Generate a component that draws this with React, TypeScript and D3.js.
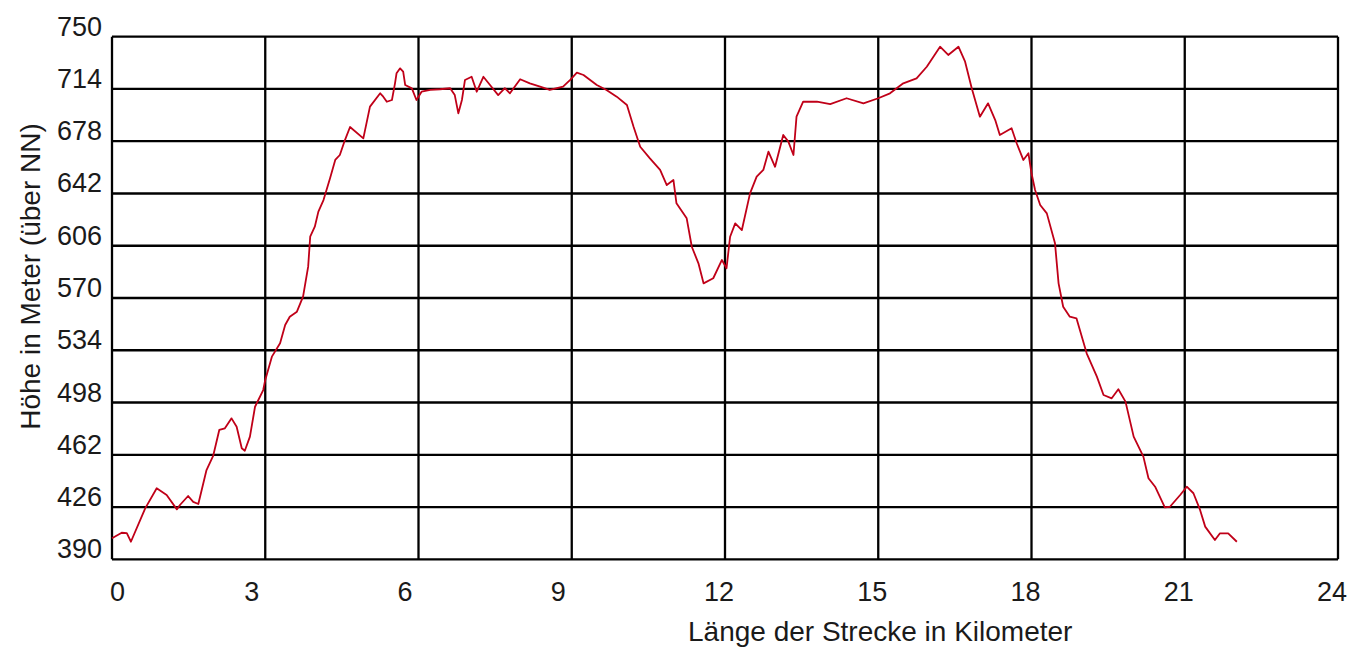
import React from "react";
import * as d3 from "d3";

const distanceKm: number[] = [
  0, 0.19, 0.29, 0.37, 0.65, 0.875, 1.07, 1.27, 1.33, 1.49, 1.59, 1.69, 1.85, 1.98, 2.1, 2.21, 2.34, 2.44, 2.54, 2.6,
  2.7, 2.8, 2.96, 3.0, 3.13, 3.29, 3.39, 3.48, 3.62, 3.74, 3.84, 3.88, 3.97, 4.04, 4.14, 4.27, 4.37, 4.46, 4.56, 4.66,
  4.92, 5.05, 5.25, 5.31, 5.38, 5.48, 5.54, 5.57, 5.64, 5.7, 5.74, 5.87, 5.96, 6.06, 6.23, 6.42, 6.62, 6.71, 6.78, 6.85,
  6.91, 7.04, 7.14, 7.27, 7.4, 7.56, 7.69, 7.79, 7.99, 8.18, 8.38, 8.57, 8.83, 8.97, 9.1, 9.23, 9.49, 9.68, 9.88, 10.08,
  10.21, 10.34, 10.53, 10.73, 10.86, 10.99, 11.05, 11.25, 11.35, 11.48, 11.58, 11.77, 11.94, 12.03, 12.1, 12.2, 12.33, 12.49, 12.62, 12.75,
  12.85, 12.98, 13.14, 13.24, 13.34, 13.4, 13.53, 13.8, 14.06, 14.38, 14.71, 15.0, 15.23, 15.49, 15.75, 15.95, 16.21, 16.37, 16.57, 16.7,
  16.83, 16.99, 17.15, 17.29, 17.38, 17.61, 17.71, 17.84, 17.94, 18.0, 18.07, 18.17, 18.3, 18.46, 18.53, 18.62, 18.75, 18.88, 19.08, 19.28,
  19.41, 19.57, 19.7, 19.84, 20.0, 20.19, 20.29, 20.42, 20.61, 20.71, 20.91, 21.04, 21.17, 21.3, 21.4, 21.59, 21.69, 21.85, 22.02,
];

const elevationM: number[] = [
  404.5, 408.3, 408.1, 402.1, 425.1, 438.9, 434.3, 424.4, 427.4, 433.6, 429.5, 428.1, 451.5, 461.2, 479.1, 480.2, 487.1, 481.3, 466.5, 464.8,
  474.5, 495.1, 506.6, 513.5, 529.6, 538.8, 551.4, 557.1, 560.6, 570.9, 591.6, 612.2, 619.1, 629.5, 637.5, 652.7, 665.1, 668.5, 678.8, 687.8,
  680.0, 701.8, 711.0, 708.7, 705.2, 706.4, 717.9, 724.8, 728.2, 725.9, 716.7, 714.4, 706.4, 712.1, 713.3, 713.8, 714.5, 709.8, 697.2, 706.4,
  720.2, 722.4, 712.1, 722.4, 716.7, 709.8, 714.5, 711.0, 720.7, 717.9, 715.6, 713.3, 715.6, 720.2, 725.2, 723.6, 716.7, 713.3, 708.7, 703.0,
  688.0, 674.2, 666.2, 658.2, 647.8, 651.3, 635.2, 624.9, 605.3, 593.9, 580.1, 583.6, 596.2, 590.5, 612.2, 621.4, 616.8, 642.1, 653.6, 658.2,
  670.8, 660.4, 682.3, 677.7, 668.5, 694.9, 705.2, 705.2, 703.6, 707.6, 704.1, 707.6, 711.0, 717.9, 721.3, 729.3, 743.1, 737.4, 743.1, 732.8,
  714.5, 694.9, 704.1, 692.6, 682.3, 686.9, 676.6, 665.1, 669.7, 655.9, 644.4, 634.1, 628.3, 607.7, 580.1, 564.0, 557.1, 556.0, 531.9, 515.8,
  503.2, 500.9, 507.1, 498.6, 474.5, 460.7, 445.8, 440.0, 425.8, 426.2, 434.3, 440.0, 435.5, 424.0, 412.5, 403.3, 407.9, 407.9, 402.1,
];

const xTicks: number[] = [0, 3, 6, 9, 12, 15, 18, 21, 24];
const yTicks: number[] = [390, 426, 462, 498, 534, 570, 606, 642, 678, 714, 750];

const xTitle = "Länge der Strecke in Kilometer";
const yTitle = "Höhe in Meter (über NN)";

export default function App() {
  const W = 1352;
  const H = 647;
  const left = 112;
  const right = 1338;
  const top = 36.7;
  const bottom = 559.3;

  const x = d3.scaleLinear().domain([0, 24]).range([left, right]);
  const y = d3.scaleLinear().domain([390, 750]).range([bottom, top]);

  const pts: [number, number][] = distanceKm.map((d, i) => [d, elevationM[i]]);
  const line = d3
    .line<[number, number]>()
    .x((p) => x(p[0]))
    .y((p) => y(p[1]));

  const font = "'Liberation Sans', Arial, sans-serif";
  const textColor = "#1a1a1a";

  return (
    <svg
      width={W}
      height={H}
      style={{ position: "absolute", left: 0, top: 0, background: "#fff" }}
    >
      <rect x={0} y={0} width={W} height={H} fill="#fff" />
      {yTicks.map((t) => (
        <line key={"h" + t} x1={left} x2={right} y1={y(t)} y2={y(t)} stroke="#000" strokeWidth={2.3} />
      ))}
      {xTicks.map((t) => (
        <line key={"v" + t} x1={x(t)} x2={x(t)} y1={top} y2={bottom} stroke="#000" strokeWidth={2.3} />
      ))}
      <path d={line(pts) || ""} fill="none" stroke="#c00018" strokeWidth={1.8} strokeLinejoin="round" />
      {yTicks.map((t) => (
        <text
          key={"yl" + t}
          x={102}
          y={y(t) - 1}
          textAnchor="end"
          fontFamily={font}
          fontSize={27}
          fill={textColor}
        >
          {t}
        </text>
      ))}
      {xTicks.map((t) => (
        <text
          key={"xl" + t}
          x={t === 0 ? x(t) - 2 : x(t) - 21}
          y={601}
          textAnchor="start"
          fontFamily={font}
          fontSize={27}
          fill={textColor}
        >
          {t}
        </text>
      ))}
      <text x={688} y={641} textAnchor="start" fontFamily={font} fontSize={28} fill={textColor}>
        {xTitle}
      </text>
      <text
        transform={`translate(40,276.5) rotate(-90)`}
        textAnchor="middle"
        fontFamily={font}
        fontSize={28}
        fill={textColor}
      >
        {yTitle}
      </text>
    </svg>
  );
}
